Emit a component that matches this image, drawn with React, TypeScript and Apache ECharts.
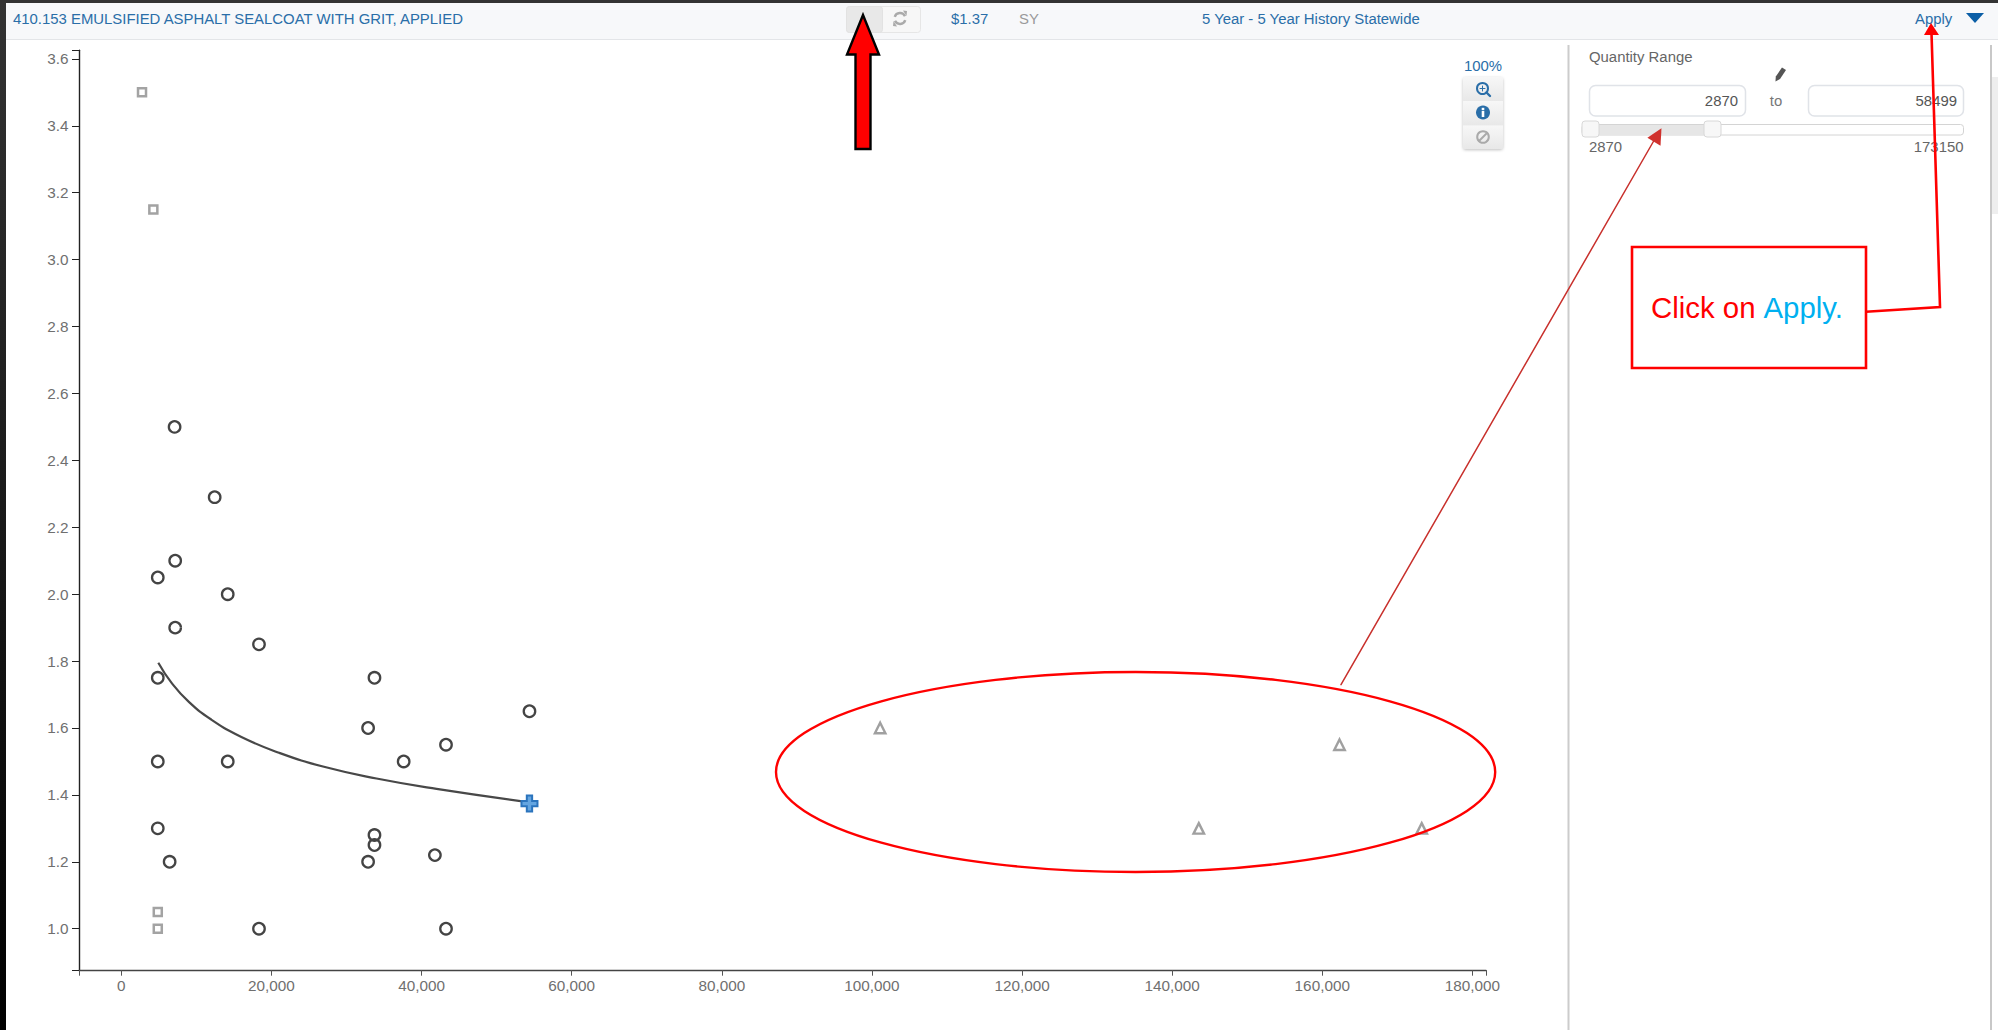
import React, { useEffect, useRef } from "react";
import * as echarts from "echarts";

const headerTitle = "410.153 EMULSIFIED ASPHALT SEALCOAT WITH GRIT, APPLIED";
const headerPrice = "$1.37";
const headerUnit = "SY";
const headerHistory = "5 Year - 5 Year History Statewide";

const xTicks = [0, 20000, 40000, 60000, 80000, 100000, 120000, 140000, 160000, 180000];
const yTicks = [1.0, 1.2, 1.4, 1.6, 1.8, 2.0, 2.2, 2.4, 2.6, 2.8, 3.0, 3.2, 3.4, 3.6];

const includedX = [7100, 12440, 7180, 4860, 14180, 7180, 18345, 33730, 4860, 54380, 32880, 43260, 4860, 14180, 37620, 4860, 33730, 33730, 6440, 32880, 41780, 18345, 43260];
const includedY = [2.5, 2.29, 2.1, 2.05, 2.0, 1.9, 1.85, 1.75, 1.75, 1.65, 1.6, 1.55, 1.5, 1.5, 1.5, 1.3, 1.28, 1.25, 1.2, 1.2, 1.22, 1.0, 1.0];

const lowOutlierX = [2760, 4270, 4860, 4860];
const lowOutlierY = [3.5, 3.15, 1.05, 1.0];

const highQuantityX = [101100, 143550, 162300, 173250];
const highQuantityY = [1.6, 1.3, 1.55, 1.3];

const trendX = [4930, 6700, 9000, 12000, 16000, 21000, 27000, 34000, 42000, 54380];
const trendY = [1.795, 1.735, 1.678, 1.625, 1.573, 1.526, 1.484, 1.449, 1.418, 1.378];

const currentX = [54380];
const currentY = [1.374];

const zip = (a: number[], b: number[]) => a.map((v, i) => [v, b[i]]);

const X_MIN = -5635;
const X_MAX = 181815;
const Y_MIN = 0.876;
const Y_MAX = 3.626;

const SANS = '"Liberation Sans", Arial, sans-serif';
const BLUE = "#2a6ea8";
const GRAY = "#6f6f6f";
const UI_SIZE = 14.9;

const txt = (text: string, x: number, y: number, fontSize: number, fill: string, textAlign = "left", z = 5) => ({
  type: "text",
  z,
  style: { text, x, y, fontSize, fontFamily: SANS, fill, textAlign, textVerticalAlign: "middle" },
});
const rect = (x: number, y: number, width: number, height: number, style: any, r = 0, z = 1) => ({
  type: "rect",
  z,
  shape: { x, y, width, height, r },
  style,
});
const line = (x1: number, y1: number, x2: number, y2: number, stroke: string, lineWidth = 1, z = 5) => ({
  type: "line",
  z,
  shape: { x1, y1, x2, y2 },
  style: { stroke, lineWidth, lineCap: "round" },
});
const poly = (points: number[][], style: any, z = 20) => ({ type: "polygon", z, shape: { points }, style });
const vGrad = (a: string, b: string) =>
  new echarts.graphic.LinearGradient(0, 0, 0, 1, [
    { offset: 0, color: a },
    { offset: 1, color: b },
  ]);

function chromeElements(): any[] {
  return [
    // window edges
    rect(0, 0, 6, 1030, { fill: vGrad("#333333", "#000000") }, 0, 30),
    rect(0, 0, 1998, 3, { fill: "#333333" }, 0, 30),
    // header strip
    rect(6, 3, 1992, 36, { fill: "#f7f8fa" }, 0, 0),
    line(6, 39.5, 1998, 39.5, "#e3e5e8", 1, 0),
    txt(headerTitle, 13, 19, UI_SIZE, BLUE),
    rect(846.5, 6.5, 74, 26, { fill: "#f7f7f7", stroke: "#e6e6e6", lineWidth: 1 }, 3),
    rect(846.5, 6.5, 36, 26, { fill: "#e8e8e8", stroke: "#e2e2e2", lineWidth: 1 }, 3),
    { type: "arc", z: 3, shape: { cx: 900, cy: 18.5, r: 5.5, startAngle: 0.3, endAngle: 2.7 }, style: { stroke: "#aaaaaa", fill: "none", lineWidth: 2.4 } },
    { type: "arc", z: 3, shape: { cx: 900, cy: 18.5, r: 5.5, startAngle: 3.44, endAngle: 5.84 }, style: { stroke: "#aaaaaa", fill: "none", lineWidth: 2.4 } },
    poly([[903, 10.5], [907, 11], [906.5, 16]], { fill: "#aaaaaa" }, 3),
    poly([[897, 26.5], [893, 26], [893.5, 21]], { fill: "#aaaaaa" }, 3),
    txt(headerPrice, 951, 18.5, UI_SIZE, BLUE),
    txt(headerUnit, 1019, 19, UI_SIZE, "#9a9a9a"),
    txt(headerHistory, 1202, 19, UI_SIZE, BLUE),
    txt("Apply", 1915, 19, UI_SIZE, BLUE),
    poly([[1966, 13], [1984, 13], [1975, 23]], { fill: "#0b5ea6" }, 5),
    // zoom control
    txt("100%", 1483, 66, UI_SIZE, BLUE, "center"),
    rect(1463, 77, 40, 72, { fill: "#eeeeee", shadowBlur: 3, shadowColor: "rgba(0,0,0,0.25)", shadowOffsetY: 1 }, 3),
    rect(1463, 77, 40, 24, { fill: vGrad("#f7f7f7", "#e8e8e8") }, 0, 2),
    rect(1463, 101, 40, 24.5, { fill: vGrad("#f7f7f7", "#e8e8e8") }, 0, 2),
    rect(1463, 125.5, 40, 23.5, { fill: vGrad("#f7f7f7", "#e8e8e8") }, 0, 2),
    { type: "circle", z: 3, shape: { cx: 1482.5, cy: 88.5, r: 5.5 }, style: { fill: "none", stroke: "#2a6ea8", lineWidth: 2 } },
    line(1486.5, 92.5, 1490, 96, "#2a6ea8", 2.4, 3),
    line(1480, 88.5, 1485, 88.5, "#2a6ea8", 1, 3),
    line(1482.5, 86, 1482.5, 91, "#2a6ea8", 1, 3),
    { type: "circle", z: 3, shape: { cx: 1483, cy: 112.5, r: 7 }, style: { fill: "#2a6ea8" } },
    rect(1481.7, 107.8, 2.6, 2.4, { fill: "#ffffff" }, 0, 4),
    rect(1481.7, 111, 2.6, 6, { fill: "#ffffff" }, 0, 4),
    { type: "circle", z: 3, shape: { cx: 1483, cy: 137, r: 5.8 }, style: { fill: "none", stroke: "#aaaaaa", lineWidth: 2 } },
    line(1479, 141, 1487, 133, "#aaaaaa", 2, 3),
    // right panel
    rect(1567.5, 45, 2, 985, { fill: "#cccccc" }, 0, 2),
    rect(1990, 45, 2, 985, { fill: "#c8c8c8" }, 0, 2),
    rect(1992, 77, 6, 137, { fill: "#eeeeee" }, 0, 2),
    txt("Quantity Range", 1589, 56.5, UI_SIZE, "#666666"),
    poly([[1782, 67.5], [1786, 70], [1780, 79], [1775.5, 81.5], [1775.8, 76.5]], { fill: "#555555" }, 5),
    rect(1589.5, 85.5, 156, 30.5, { fill: "#ffffff", stroke: "#e0e3e8", lineWidth: 1.5 }, 6),
    txt("2870", 1738, 100.5, UI_SIZE, "#555555", "right"),
    txt("to", 1776, 100.5, UI_SIZE, "#777777", "center"),
    rect(1808.5, 85.5, 155, 30.5, { fill: "#ffffff", stroke: "#e0e3e8", lineWidth: 1.5 }, 6),
    txt("58499", 1957, 100.5, UI_SIZE, "#555555", "right"),
    rect(1582, 124.5, 381.5, 10.5, { fill: "#ffffff", stroke: "#d4d4d4", lineWidth: 1 }, 3),
    rect(1590, 125, 122, 10, { fill: "#e6e6e6" }, 0, 2),
    rect(1582, 121, 17, 16, { fill: "#f7f7f7", stroke: "#d8d8d8", lineWidth: 1 }, 3, 3),
    rect(1704, 121, 17, 16, { fill: "#f7f7f7", stroke: "#d8d8d8", lineWidth: 1 }, 3, 3),
    txt("2870", 1589, 146.5, UI_SIZE, "#666666"),
    txt("173150", 1963.5, 146.5, UI_SIZE, "#666666", "right"),
    // annotations
    {
      type: "ellipse",
      z: 20,
      shape: { cx: 1135.6, cy: 772, rx: 359.6, ry: 100 },
      style: { fill: "none", stroke: "#ff0000", lineWidth: 2.4 },
    },
    line(1341, 684.7, 1656, 137, "#c8302c", 1.5, 20),
    poly([[1661.5, 128.3], [1647.4, 137.7], [1660.5, 145.7]], { fill: "#d0312d" }),
    rect(1632, 247, 234, 121, { fill: "#ffffff", stroke: "#ff0000", lineWidth: 2.6 }, 0, 20),
    txt("Click on", 1651, 307, 29.4, "#ff0000", "left", 21),
    txt("Apply.", 1763.5, 307, 29.4, "#00b0f0", "left", 21),
    {
      type: "polyline",
      z: 21,
      shape: { points: [[1866, 311.7], [1940, 307], [1931.5, 33]] },
      style: { stroke: "#ff0000", lineWidth: 2.6, fill: "none" },
    },
    poly([[1931, 23], [1924, 35], [1939, 35]], { fill: "#ff0000" }, 21),
    poly(
      [[863, 15], [879, 54.5], [870.5, 54.5], [870.5, 149], [855.5, 149], [855.5, 54.5], [847, 54.5]],
      { fill: "#ff0000", stroke: "#000000", lineWidth: 2.4, lineJoin: "miter" },
    ),
  ];
}

export default function App() {
  const ref = useRef<HTMLDivElement>(null);
  useEffect(() => {
    document.body.style.margin = "0";
    document.body.style.background = "#ffffff";
    const chart = echarts.init(ref.current!, null, { renderer: "svg" });
    const axisLabelBase = { color: GRAY, fontSize: 15.3, fontFamily: SANS };
    chart.setOption({
      animation: false,
      backgroundColor: "#ffffff",
      grid: { left: 79, top: 50.2, width: 1407, height: 920, containLabel: false },
      xAxis: {
        type: "value",
        min: X_MIN,
        max: X_MAX,
        splitLine: { show: false },
        axisLine: { show: true, onZero: false, lineStyle: { color: "#444444", width: 1.4 } },
        axisTick: { show: true, length: 5.5, customValues: [X_MIN, ...xTicks, X_MAX], lineStyle: { color: "#555555", width: 1 } },
        axisLabel: {
          ...axisLabelBase,
          margin: 8,
          customValues: xTicks,
          formatter: (v: number) => v.toLocaleString("en-US"),
        },
      },
      yAxis: {
        type: "value",
        min: Y_MIN,
        max: Y_MAX,
        splitLine: { show: false },
        axisLine: { show: true, onZero: false, lineStyle: { color: "#222222", width: 1.4 } },
        axisTick: { show: true, length: 7, customValues: [Y_MIN, ...yTicks, Y_MAX], lineStyle: { color: "#222222", width: 1 } },
        axisLabel: {
          ...axisLabelBase,
          margin: 10.5,
          customValues: yTicks,
          formatter: (v: number) => v.toFixed(1),
        },
      },
      series: [
        {
          name: "Trend",
          type: "line",
          data: zip(trendX, trendY),
          smooth: 0.5,
          showSymbol: false,
          symbol: "none",
          z: 2,
          lineStyle: { color: "#484848", width: 2.2 },
        },
        {
          name: "Included",
          type: "scatter",
          data: zip(includedX, includedY),
          symbol: "circle",
          symbolSize: 11.5,
          z: 3,
          itemStyle: { color: "rgba(255,255,255,0)", borderColor: "#444444", borderWidth: 2.3, opacity: 1 },
        },
        {
          name: "Low quantity",
          type: "scatter",
          data: zip(lowOutlierX, lowOutlierY),
          symbol: "rect",
          symbolSize: 8,
          z: 3,
          itemStyle: { color: "#ffffff", borderColor: "#a3a3a3", borderWidth: 2.5, opacity: 1 },
        },
        {
          name: "High quantity",
          type: "scatter",
          data: zip(highQuantityX, highQuantityY),
          symbol: "triangle",
          symbolSize: 10.5,
          z: 3,
          itemStyle: { color: "#ffffff", borderColor: "#a0a0a0", borderWidth: 2.4, opacity: 1 },
        },
        {
          name: "Current price",
          type: "scatter",
          data: zip(currentX, currentY),
          symbol: "path://M6 0h6v6h6v6h-6v6H6v-6H0V6h6z",
          symbolSize: 16,
          z: 4,
          itemStyle: { color: "#64a5e0", borderColor: "#2b74bd", borderWidth: 2, opacity: 1 },
        },
      ],
      graphic: { elements: chromeElements() },
    });
    return () => chart.dispose();
  }, []);
  return <div ref={ref} style={{ width: 1998, height: 1030 }} />;
}
